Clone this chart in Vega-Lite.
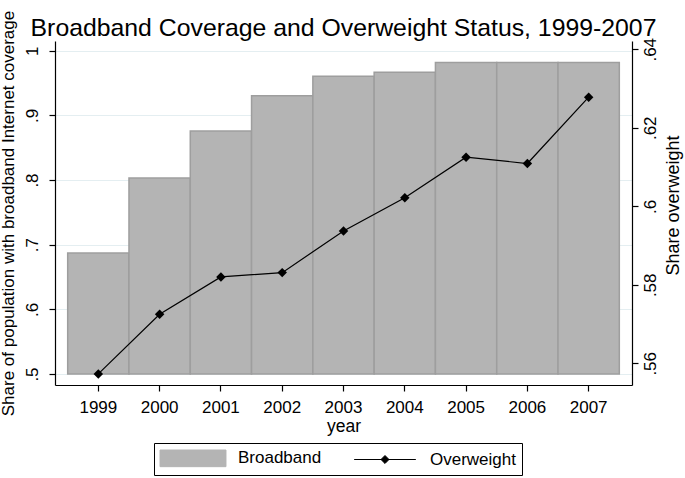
{
  "$schema": "https://vega.github.io/schema/vega-lite/v6.json",
  "width": 577,
  "height": 344,
  "autosize": {"type": "none"},
  "padding": {"left": 55, "top": 41, "right": 53, "bottom": 93},
  "background": "white",
  "title": {
    "text": "Broadband Coverage and Overweight Status, 1999-2007",
    "fontSize": 24.8,
    "font": "Liberation Sans",
    "fontWeight": "normal",
    "color": "black",
    "anchor": "middle",
    "offset": -31
  },
  "data": {
    "values": [
      {"year": "1999", "broadband": 0.6873, "overweight": 0.5573},
      {"year": "2000", "broadband": 0.8031, "overweight": 0.5725},
      {"year": "2001", "broadband": 0.8757, "overweight": 0.5820},
      {"year": "2002", "broadband": 0.9303, "overweight": 0.5831},
      {"year": "2003", "broadband": 0.9606, "overweight": 0.5937},
      {"year": "2004", "broadband": 0.9668, "overweight": 0.6022},
      {"year": "2005", "broadband": 0.9818, "overweight": 0.6125},
      {"year": "2006", "broadband": 0.9818, "overweight": 0.6109},
      {"year": "2007", "broadband": 0.9818, "overweight": 0.6278}
    ]
  },
  "encoding": {
    "x": {
      "field": "year",
      "type": "ordinal",
      "scale": {"paddingInner": 0, "paddingOuter": 0.207},
      "axis": {
        "title": "year",
        "labelAngle": 0,
        "labelFontSize": 17,
        "labelPadding": 8,
        "tickSize": 6,
        "titleFontSize": 17.5,
        "titlePadding": 2
      }
    }
  },
  "layer": [
    {
      "mark": {"type": "bar", "stroke": "#9e9e9e", "strokeWidth": 1.5},
      "encoding": {
        "y": {
          "field": "broadband",
          "type": "quantitative",
          "scale": {"domain": [0.483, 1.015], "nice": false, "zero": false},
          "axis": {
            "orient": "left",
            "values": [0.5, 0.6, 0.7, 0.8, 0.9, 1],
            "labelExpr": "replace(format(datum.value, '.1~f'), '0.', '.')",
            "labelAngle": 270,
            "labelAlign": "center",
            "labelBaseline": "bottom",
            "labelPadding": 8,
            "labelFontSize": 17,
            "tickSize": 6,
            "grid": true,
            "gridColor": "#e4eef1",
            "gridWidth": 1,
            "title": "Share of population with broadband Internet coverage",
            "titleFontSize": 17,
            "titlePadding": 6
          }
        },
        "y2": {"datum": 0.5},
        "color": {
          "datum": "Broadband",
          "scale": {"domain": ["Broadband", "Overweight"], "range": ["#b4b4b4", "black"]},
          "legend": {
            "title": null,
            "orient": "none",
            "legendX": 99,
            "legendY": 402,
            "direction": "horizontal",
            "strokeColor": "black",
            "fillColor": "white",
            "padding": 6,
            "labelFont": "Liberation Sans",
            "labelFontSize": 17,
            "labelColor": "black",
            "symbolSize": 289,
            "symbolStrokeWidth": 1,
            "symbolOpacity": 1,
            "symbolOffset": 24,
            "labelOffset": 36,
            "columnPadding": 30
          }
        }
      }
    },
    {
      "encoding": {
        "y": {
          "field": "overweight",
          "type": "quantitative",
          "scale": {"domain": [0.55447, 0.64211], "nice": false, "zero": false},
          "axis": {
            "orient": "right",
            "values": [0.56, 0.58, 0.6, 0.62, 0.64],
            "labelExpr": "replace(format(datum.value, '.2~f'), '0.', '.')",
            "labelAngle": 270,
            "labelAlign": "center",
            "labelBaseline": "top",
            "labelPadding": 4,
            "labelFontSize": 17,
            "tickSize": 6,
            "grid": false,
            "title": "Share overweight",
            "titleAngle": 270,
            "titleBaseline": "top",
            "titleFontSize": 18,
            "titlePadding": 6,
            "titleY": 164
          }
        }
      },
      "layer": [
        {
          "mark": {"type": "line", "strokeWidth": 1.2},
          "encoding": {"color": {"datum": "Overweight"}}
        },
        {
          "mark": {"type": "point", "shape": "diamond", "filled": true, "size": 90, "opacity": 1},
          "encoding": {"color": {"datum": "Overweight"}}
        },
        {
          "mark": {"type": "point", "filled": true, "opacity": 0},
          "encoding": {
            "color": {"datum": "Overweight"},
            "shape": {
              "datum": "Overweight",
              "scale": {
                "domain": ["Broadband", "Overweight"],
                "range": ["M-3.88,-0.98H3.88V0.98H-3.88Z", "M-3.63,0H3.63M0,-0.47L0.47,0L0,0.47L-0.47,0Z"]
              },
              "legend": {
                "title": null,
                "orient": "none",
                "legendX": 99,
                "legendY": 402,
                "direction": "horizontal",
                "strokeColor": "black",
                "fillColor": "white",
                "padding": 6,
                "labelFont": "Liberation Sans",
                "labelFontSize": 17,
                "labelColor": "black",
                "symbolSize": 289,
                "symbolStrokeWidth": 1,
                "symbolOpacity": 1,
                "symbolOffset": 24,
                "labelOffset": 36,
                "columnPadding": 30
              }
            }
          }
        }
      ]
    }
  ],
  "resolve": {"scale": {"y": "independent"}},
  "config": {
    "view": {"stroke": null},
    "font": "Liberation Sans",
    "axis": {
      "labelFont": "Liberation Sans",
      "titleFont": "Liberation Sans",
      "labelColor": "black",
      "titleColor": "black",
      "titleFontWeight": "normal",
      "domainColor": "black",
      "tickColor": "black",
      "domainWidth": 1.2,
      "tickWidth": 1.2
    }
  }
}
